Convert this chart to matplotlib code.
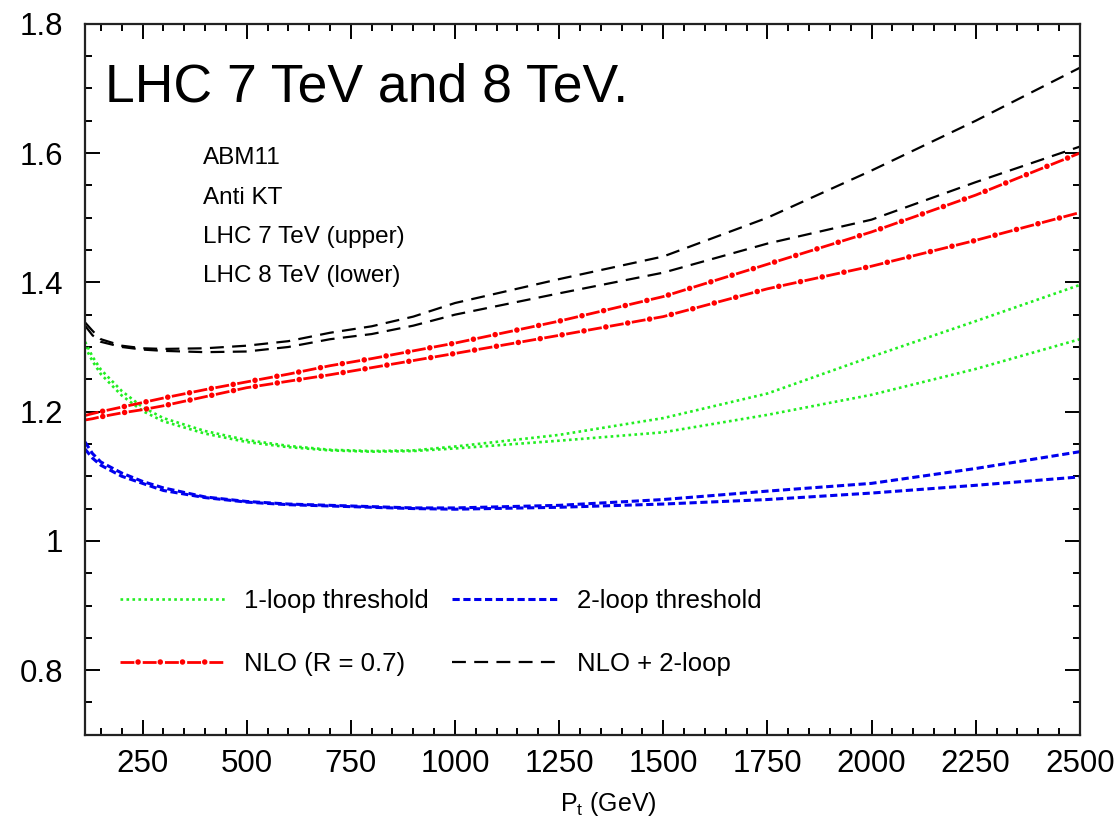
import matplotlib
matplotlib.use('Agg')
import matplotlib.pyplot as plt
from matplotlib.legend_handler import HandlerTuple
from matplotlib.ticker import MultipleLocator, FormatStrFormatter

plt.rcParams['font.family'] = ['Liberation Sans', 'DejaVu Sans']
plt.rcParams['mathtext.fontset'] = 'custom'
plt.rcParams['mathtext.rm'] = 'Liberation Sans'
plt.rcParams['mathtext.it'] = 'Liberation Sans'
plt.rcParams['lines.scale_dashes'] = False

# transverse momentum grid (GeV)
pt = [112, 130, 150, 200, 250, 300, 400, 500, 600, 700, 800, 900,
      1000, 1250, 1500, 1750, 2000, 2250, 2500]

# 1-loop threshold / NLO ratios
one_loop_7 = [1.308, 1.285, 1.265, 1.232, 1.207, 1.190, 1.170, 1.156, 1.147, 1.141,
              1.139, 1.140, 1.146, 1.164, 1.190, 1.228, 1.285, 1.340, 1.396]
one_loop_8 = [1.300, 1.278, 1.258, 1.225, 1.201, 1.185, 1.166, 1.153, 1.145, 1.140,
              1.138, 1.139, 1.143, 1.155, 1.168, 1.195, 1.226, 1.266, 1.312]

# 2-loop threshold
two_loop_7 = [1.153, 1.135, 1.122, 1.105, 1.092, 1.082, 1.068, 1.061, 1.057, 1.055,
              1.053, 1.051, 1.051, 1.055, 1.064, 1.077, 1.089, 1.112, 1.138]
two_loop_8 = [1.142, 1.128, 1.117, 1.100, 1.089, 1.078, 1.067, 1.060, 1.056, 1.054,
              1.052, 1.050, 1.049, 1.052, 1.057, 1.064, 1.074, 1.086, 1.099]

# NLO (R = 0.7)
nlo_7 = [1.194, 1.197, 1.200, 1.207, 1.214, 1.221, 1.234, 1.246, 1.258, 1.271,
         1.282, 1.294, 1.306, 1.340, 1.378, 1.428, 1.478, 1.535, 1.600]
nlo_8 = [1.187, 1.189, 1.192, 1.198, 1.203, 1.209, 1.223, 1.237, 1.247, 1.257,
         1.268, 1.279, 1.290, 1.318, 1.347, 1.390, 1.425, 1.465, 1.508]

# NLO + 2-loop
nlo2_7 = [1.338, 1.325, 1.312, 1.302, 1.298, 1.297, 1.298, 1.302, 1.309, 1.322,
          1.332, 1.347, 1.368, 1.405, 1.440, 1.500, 1.573, 1.650, 1.732]
nlo2_8 = [1.333, 1.318, 1.308, 1.300, 1.296, 1.294, 1.292, 1.293, 1.300, 1.312,
          1.320, 1.333, 1.350, 1.383, 1.415, 1.460, 1.497, 1.555, 1.610]

labels = ['1-loop threshold', 'NLO (R = 0.7)', '2-loop threshold', 'NLO + 2-loop']
info = ['ABM11', 'Anti KT', 'LHC 7 TeV (upper)', 'LHC 8 TeV (lower)']

green = '#22ee22'
blue = '#0000ee'
red = '#ff0000'

fig = plt.figure(figsize=(11.19, 8.21), dpi=100)
ax = fig.add_axes([0.076, 0.105, 0.889, 0.866])

for y in (one_loop_7, one_loop_8):
    g, = ax.plot(pt, y, color=green, lw=1.9, linestyle=(0, (1.9, 2.4)), dash_capstyle='butt')
for y in (two_loop_7, two_loop_8):
    b, = ax.plot(pt, y, color=blue, lw=2.2, linestyle=(0, (5.2, 2.6)), dash_capstyle='butt')
for y in (nlo_7, nlo_8):
    r1, = ax.plot(pt, y, color=red, lw=2.0, linestyle=(0, (10, 6)), dash_capstyle='butt')
    # dots sitting in the middle of each gap
    r2, = ax.plot(pt, y, color=red, lw=4.0, linestyle=(3.0, (0.01, 15.99)), dash_capstyle='round')
for y in (nlo2_7, nlo2_8):
    k, = ax.plot(pt, y, color='black', lw=1.6, linestyle=(0, (10, 6)), dash_capstyle='butt')

ax.set_xlim(112, 2500)
ax.set_ylim(0.7, 1.8)
ax.xaxis.set_major_locator(MultipleLocator(250))
ax.xaxis.set_minor_locator(MultipleLocator(50))
ax.yaxis.set_major_locator(MultipleLocator(0.2))
ax.yaxis.set_minor_locator(MultipleLocator(0.05))
ax.yaxis.set_major_formatter(FormatStrFormatter('%g'))
ax.tick_params(which='both', direction='in', top=True, right=True, width=1.4, colors='black')
ax.tick_params(which='major', length=10.5)
ax.tick_params(which='minor', length=5)
ax.tick_params(axis='x', labelsize=22.5, pad=10)
ax.tick_params(axis='y', labelsize=22.5, pad=16)
for s in ax.spines.values():
    s.set_linewidth(1.6)
    s.set_color('#222222')

ax.set_xlabel(r'$\mathrm{P_t}$ (GeV)', fontsize=18)
ax.xaxis.set_label_coords(0.526, -0.078)

ax.text(0.02, 0.91, 'LHC 7 TeV and 8 TeV.', transform=ax.transAxes,
        fontsize=38.5, va='center', ha='left')
for i, t in enumerate(info):
    ax.text(0.119, 0.811 - i * 0.0553, t, transform=ax.transAxes,
            fontsize=17.5, va='center', ha='left')

ax.legend([g, (r1, r2), b, k], labels, ncol=2, frameon=False, fontsize=18.5,
          loc='upper left', bbox_to_anchor=(0.035, 0.205), borderaxespad=0, borderpad=0,
          handlelength=4.1, handletextpad=0.75, columnspacing=0.9, labelspacing=1.5,
          handler_map={tuple: HandlerTuple(ndivide=1, pad=0)})

fig.savefig('out.png', dpi=100)
